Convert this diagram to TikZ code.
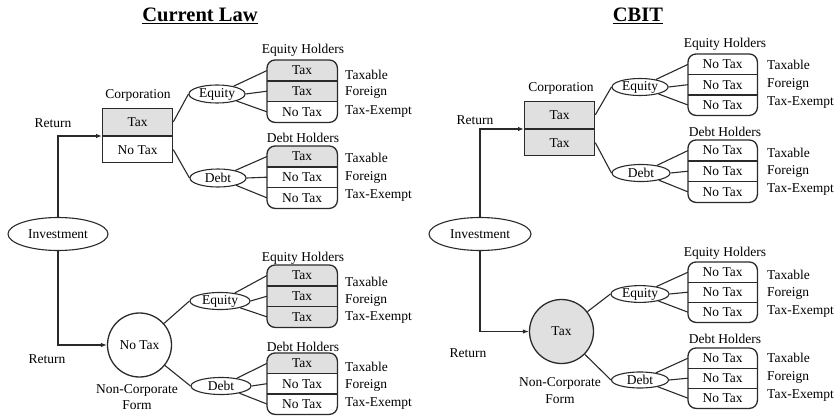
\documentclass[tikz,border=0pt]{standalone}
\usepackage{fontspec}
\setmainfont{LiberationSerif}[Extension=.ttf,UprightFont=*-Regular,BoldFont=*-Bold,ItalicFont=*-Italic,BoldItalicFont=*-BoldItalic]
\usetikzlibrary{arrows.meta,shapes.geometric,fit}
\definecolor{taxgray}{HTML}{E0E0E0}
\definecolor{ln}{HTML}{2A2A2A}
\tikzset{
 txt/.style={font=\rmfamily\fontsize{13.5}{15}\selectfont, inner sep=0pt},
 titletxt/.style={font=\rmfamily\fontsize{20.5}{24}\selectfont\bfseries, inner sep=0pt},
 conn/.style={draw=ln, line width=1.1pt},
 arr/.style={conn, -{Latex[length=6pt,width=4.5pt]}},
 oval/.style={ellipse, draw=ln, line width=1.1pt, inner sep=0pt, txt, fill=white},
 corpcell/.style={rectangle, draw=ln, line width=1.3pt, txt, minimum width=70pt},
 rowcell/.style={rectangle, inner sep=0pt, txt},
 frame/.style={draw=ln, line width=1.3pt, rounded corners=8pt, inner sep=0pt},
 sepline/.style={draw=ln, line width=1.4pt},
 roundnode/.style={circle, draw=ln, line width=1.3pt, txt, minimum size=64pt},
}
\newcommand\holderbox[6]{%
 \pgfmathsetmacro\rowh{#5/3}%
 \begin{scope}
 \clip[rounded corners=8pt] (#2,#3) rectangle ({#2+#4},{#3+#5});
 \foreach \rfill/\rtext [count=\i] in {#6}{
   \node[rowcell, fill=\rfill, minimum width=#4pt, minimum height=\rowh pt, anchor=north west] (#1\i) at ({#2},{#3+(\i-1)*\rowh}) {\rtext};
 }
 \end{scope}
 \draw[sepline] (#11.south west) -- (#11.south east);
 \draw[sepline] (#12.south west) -- (#12.south east);
 \node[frame, fit=(#11)(#13)] (#1) {};
}
\begin{document}
\begin{tikzpicture}[x=1pt,y=-1pt]
\useasboundingbox (0,0) rectangle (838,415);
% ---------------- Current Law ----------------
\node[titletxt] (ltitle) at (200,16) {\underline{Current Law}};
\node[txt] (lcorplab) at (138,95) {Corporation};
\node[corpcell, fill=taxgray, minimum height=27pt, anchor=south west] (lcA) at (102,136) {Tax};
\node[corpcell, fill=white, minimum height=26pt, anchor=north west] (lcB) at (102,136) {No Tax};
\node[txt] (lret1) at (53,123) {Return};
\node[oval, minimum width=100pt, minimum height=33pt] (linv) at (58,234) {Investment};
\node[roundnode, fill=white] (lnc) at (139.5,345) {No Tax};
\node[txt] (lret2) at (47,359) {Return};
\node[txt] (lnclab1) at (137,390) {Non-Corporate};
\node[txt] (lnclab2) at (137,405) {Form};
\node[oval, minimum width=56pt, minimum height=18pt] (leq) at (217,94) {Equity};
\node[oval, minimum width=56pt, minimum height=18pt] (ldb) at (218,178) {Debt};
\node[oval, minimum width=60pt, minimum height=17pt] (leq2) at (220,301) {Equity};
\node[oval, minimum width=60pt, minimum height=17pt] (ldb2) at (221,386) {Debt};
\node[txt] (lehlab) at (303,50) {Equity Holders};
\node[txt] (ldhlab) at (303,138) {Debt Holders};
\node[txt] (lehlab2) at (303,258) {Equity Holders};
\node[txt] (ldhlab2) at (303,347) {Debt Holders};
\holderbox{lhe}{267}{60}{70}{62}{taxgray/Tax,taxgray/Tax,white/No Tax}
\holderbox{lhd}{267}{146}{70}{62}{taxgray/Tax,white/No Tax,white/No Tax}
\holderbox{lhex}{267}{265}{70}{62}{taxgray/Tax,taxgray/Tax,taxgray/Tax}
\holderbox{lhdx}{267}{353}{70}{61}{taxgray/Tax,white/No Tax,white/No Tax}
\foreach \nm/\yy/\tx in {la/75/Taxable,lb/92/Foreign,lc/112/Tax-Exempt,ld/158/Taxable,le/177/Foreign,lf/196/Tax-Exempt,lg/282/Taxable,lh/300/Foreign,li/318/Tax-Exempt,lj/367/Taxable,lk/385/Foreign,ll/404/Tax-Exempt}
  \node[txt, anchor=west] (t\nm) at (345,\yy) {\tx};
\draw[arr] (linv.north) |- (lcA.south west);
\draw[arr] (linv.south) |- (lnc.west);
\draw[conn] (lcA.east) -- (leq.west);
\draw[conn] (lcB.east) -- (ldb.west);
\draw[conn] (lnc) -- (leq2.west);
\draw[conn] (lnc) -- (ldb2.west);
\foreach \e/\b in {leq/lhe,ldb/lhd,leq2/lhex,ldb2/lhdx}{
  \draw[conn] (\e) -- (\b1.west);
  \draw[conn] (\e.east) -- (\b2.west);
  \draw[conn] (\e) -- (\b3.west);
}
% ---------------- CBIT ----------------
\node[titletxt] (rtitle) at (638,16) {\underline{CBIT}};
\node[txt] (rcorplab) at (561,88) {Corporation};
\node[corpcell, fill=taxgray, minimum height=27pt, anchor=south west] (rcA) at (524,129) {Tax};
\node[corpcell, fill=taxgray, minimum height=26pt, anchor=north west] (rcB) at (524,129) {Tax};
\node[txt] (rret1) at (475,120) {Return};
\node[oval, minimum width=102pt, minimum height=33pt] (rinv) at (480,234) {Investment};
\node[roundnode, fill=taxgray] (rnc) at (561.5,331.5) {Tax};
\node[txt] (rret2) at (468,353) {Return};
\node[txt] (rnclab1) at (560,383) {Non-Corporate};
\node[txt] (rnclab2) at (560,399) {Form};
\node[oval, minimum width=56pt, minimum height=17pt] (req) at (640,87) {Equity};
\node[oval, minimum width=58pt, minimum height=17pt] (rdb) at (641,173) {Debt};
\node[oval, minimum width=58pt, minimum height=16pt] (req2) at (640,294) {Equity};
\node[oval, minimum width=57pt, minimum height=16pt] (rdb2) at (640,380) {Debt};
\node[txt] (rehlab) at (725,44) {Equity Holders};
\node[txt] (rdhlab) at (725,132) {Debt Holders};
\node[txt] (rehlab2) at (725,253) {Equity Holders};
\node[txt] (rdhlab2) at (725,339) {Debt Holders};
\holderbox{rhe}{688}{54}{69}{61}{white/No Tax,white/No Tax,white/No Tax}
\holderbox{rhd}{688}{140}{69}{62}{white/No Tax,white/No Tax,white/No Tax}
\holderbox{rhex}{688}{262}{69}{60}{white/No Tax,white/No Tax,white/No Tax}
\holderbox{rhdx}{688}{348}{69}{60}{white/No Tax,white/No Tax,white/No Tax}
\foreach \nm/\yy/\tx in {ra/65/Taxable,rb/84/Foreign,rc/103/Tax-Exempt,rd/153/Taxable,re/171/Foreign,rf/190/Tax-Exempt,rg/275/Taxable,rh/293/Foreign,ri/312/Tax-Exempt,rj/358/Taxable,rk/377/Foreign,rl/396/Tax-Exempt}
  \node[txt, anchor=west] (t\nm) at (767,\yy) {\tx};
\draw[arr] (rinv.north) |- (rcA.south west);
\draw[arr] (rinv.south) |- (rnc.west);
\draw[conn] (rcA.east) -- (req.west);
\draw[conn] (rcB.east) -- (rdb.west);
\draw[conn] (rnc) -- (req2.west);
\draw[conn] (rnc) -- (rdb2.west);
\foreach \e/\b in {req/rhe,rdb/rhd,req2/rhex,rdb2/rhdx}{
  \draw[conn] (\e) -- (\b1.west);
  \draw[conn] (\e.east) -- (\b2.west);
  \draw[conn] (\e) -- (\b3.west);
}
\end{tikzpicture}
\end{document}
